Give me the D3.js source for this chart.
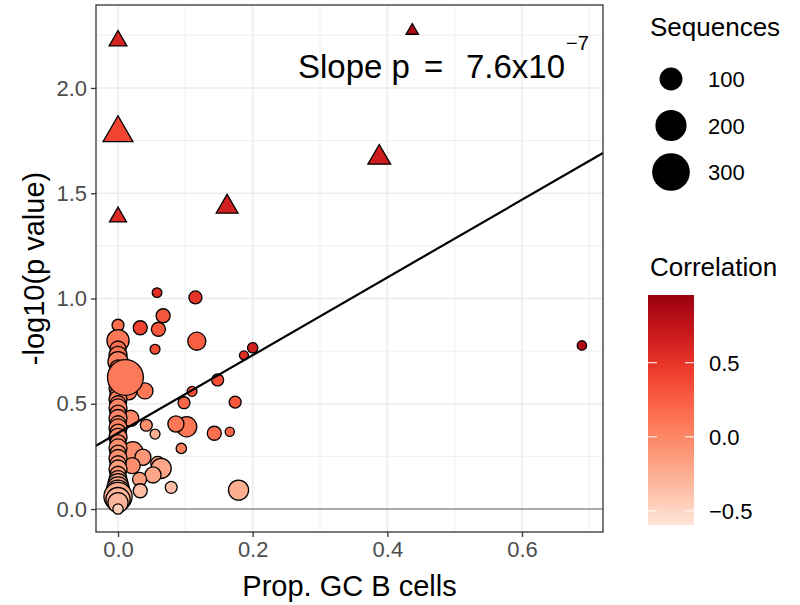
<!DOCTYPE html>
<html>
<head>
<meta charset="utf-8">
<script src="https://cdn.jsdelivr.net/npm/d3@7"></script>
<style>
body{margin:0;background:#fff;}
svg text{font-family:"Liberation Sans",Arial,Helvetica,sans-serif;}
</style>
</head>
<body>
<div id="chart"></div>
<script>
// proportion of GC B cells (x)
const gcProp=[
0.000,0.000,0.000,0.162,0.437,0.388,
0.058,0.115,0.067,0.033,0.060,0.055,0.117,0.187,0.200,0.148,0.110,0.098,0.174,
0.102,0.086,0.143,0.166,0.094,0.179,0.689,0.040,0.016,0.019,0.042,0.055,0.022,
0.037,0.021,0.059,0.064,0.052,0.032,0.033,0.079,
0.000,0.000,0.000,0.000,0.000,0.000,0.000,0.000,0.000,0.000,0.000,0.000,0.000,
0.000,0.000,0.000,0.000,0.000,0.000,0.000,0.000,0.000,0.000,0.000,0.000,0.000,
0.000,0.000,0.000,0.000,0.000,0.000,0.000,0.000,0.011
]
// -log10(p value) (y)
const logP=[
2.224,1.786,1.387,1.435,2.272,1.669,
1.028,1.005,0.918,0.861,0.854,0.759,0.797,0.730,0.766,0.613,0.559,0.505,0.508,
0.391,0.404,0.360,0.367,0.288,0.090,0.777,0.561,0.557,0.431,0.398,0.356,0.272,
0.246,0.206,0.217,0.193,0.162,0.141,0.087,0.103,
0.873,0.800,0.760,0.730,0.700,0.670,0.640,0.600,0.575,0.545,0.520,0.500,0.480,
0.455,0.430,0.405,0.385,0.365,0.340,0.315,0.290,0.265,0.240,0.215,0.190,0.165,
0.140,0.120,0.100,0.080,0.060,0.045,0.030,0.000,0.625
]
// number of sequences (size)
const nSeq=[
21,92,18,41,1,46,
3,20,26,26,26,4,55,0,6,14,4,14,14,
73,40,26,1,6,73,2,40,40,40,14,4,73,
40,40,26,73,40,26,26,14,
14,92,40,55,73,40,26,40,55,40,55,40,55,
40,55,40,55,40,55,40,55,40,55,40,55,40,
55,73,92,113,160,113,73,6,270
]
// correlation (fill)
const corr=[
0.62,0.40,0.58,0.65,0.85,0.68,
0.55,0.50,0.30,0.40,0.30,0.35,0.25,0.55,0.65,0.35,0.35,0.20,0.30,
0.10,0.10,0.15,0.20,0.05,-0.25,0.85,0.10,0.10,0.00,-0.05,-0.25,-0.05,
-0.10,-0.05,-0.15,-0.20,-0.20,-0.15,-0.35,-0.35,
0.15,0.10,0.15,0.10,0.05,0.10,0.15,0.05,0.10,0.00,0.05,0.10,0.00,
0.05,0.00,-0.05,0.05,0.00,-0.05,0.00,-0.05,-0.10,-0.05,-0.10,-0.15,-0.10,
-0.15,-0.20,-0.20,-0.25,-0.25,-0.30,-0.30,-0.45,0.08
]
const xTicks=[0,0.2,0.4,0.6]
const yTicks=[0,0.5,1.0,1.5,2.0]
const sizeBreaks=[100,200,300]
const corrTicks=[-0.5,0,0.5]
const reds=["#fee5d9","#fcbba1","#fc9272","#fb6a4a","#ef3b2c","#cb181d","#99000d"]
const slopeIntercept=0.361, slopeValue=1.847

let pts=gcProp.map((x,i)=>({x:x,y:logP[i],n:nSeq[i],c:corr[i],sig:logP[i]>1.3}))

const W=800,H=605
const panel={l:96,r:603,t:5,b:532}
let svg=d3.select('#chart').append('svg').attr('width',W).attr('height',H)

let xscale=d3.scaleLinear().domain([-0.0327,0.7203]).range([panel.l,panel.r])
let yscale=d3.scaleLinear().domain([-0.109,2.394]).range([panel.b,panel.t])
let area=d3.scaleLinear().domain([0,300]).range([20,355]).clamp(true)
let rad=n=>Math.sqrt(area(n))
let cmin=-0.595,cmax=0.957
let colorscale=d3.scaleLinear()
	.domain(d3.range(7).map(i=>cmin+i*(cmax-cmin)/6))
	.range(reds).interpolate(d3.interpolateLab)

// grid
let grid=svg.append('g')
let minorX=[0.1,0.3,0.5,0.7],minorY=[0.25,0.75,1.25,1.75,2.25]
grid.selectAll('.mx').data(minorX).join('line')
	.attr('x1',d=>xscale(d)).attr('x2',d=>xscale(d)).attr('y1',panel.t).attr('y2',panel.b)
	.attr('stroke','#ebebeb').attr('stroke-width',0.8)
grid.selectAll('.my').data(minorY).join('line')
	.attr('y1',d=>yscale(d)).attr('y2',d=>yscale(d)).attr('x1',panel.l).attr('x2',panel.r)
	.attr('stroke','#ebebeb').attr('stroke-width',0.8)
grid.selectAll('.gx').data(xTicks).join('line')
	.attr('x1',d=>xscale(d)).attr('x2',d=>xscale(d)).attr('y1',panel.t).attr('y2',panel.b)
	.attr('stroke','#ebebeb').attr('stroke-width',1.6)
grid.selectAll('.gy').data(yTicks).join('line')
	.attr('y1',d=>yscale(d)).attr('y2',d=>yscale(d)).attr('x1',panel.l).attr('x2',panel.r)
	.attr('stroke','#ebebeb').attr('stroke-width',1.6)

// zero line
svg.append('line').attr('x1',panel.l).attr('x2',panel.r)
	.attr('y1',yscale(0)).attr('y2',yscale(0))
	.attr('stroke','#ababab').attr('stroke-width',2)

// points
let marks=svg.append('g')
pts.forEach(d=>{
	if(d.sig){
		let A=Math.PI*Math.pow(rad(d.n),2)
		marks.append('path')
			.attr('d',d3.symbol().type(d3.symbolTriangle).size(A)())
			.attr('transform','translate('+xscale(d.x)+','+yscale(d.y)+')')
			.attr('fill',colorscale(d.c)).attr('stroke','black').attr('stroke-width',1.3)
	}else{
		marks.append('circle')
			.attr('cx',xscale(d.x)).attr('cy',yscale(d.y)).attr('r',rad(d.n))
			.attr('fill',colorscale(d.c)).attr('stroke','black').attr('stroke-width',1.3)
	}
})

// regression line
let x0=xscale.domain()[0],x1=xscale.domain()[1]
svg.append('line')
	.attr('x1',xscale(x0)).attr('y1',yscale(slopeIntercept+slopeValue*x0))
	.attr('x2',xscale(x1)).attr('y2',yscale(slopeIntercept+slopeValue*x1))
	.attr('stroke','black').attr('stroke-width',2.2)

// border
svg.append('rect').attr('x',panel.l).attr('y',panel.t)
	.attr('width',panel.r-panel.l).attr('height',panel.b-panel.t)
	.attr('fill','none').attr('stroke','#333333').attr('stroke-width',1.3)

// axes
let xaxis=d3.axisBottom(xscale).tickValues(xTicks).tickFormat(d3.format('.1f')).tickSizeOuter(0).tickSize(5).tickPadding(4)
let yaxis=d3.axisLeft(yscale).tickValues(yTicks).tickFormat(d3.format('.1f')).tickSizeOuter(0).tickSize(5).tickPadding(4)
let gx=svg.append('g').attr('transform','translate(0,'+panel.b+')').call(xaxis)
let gy=svg.append('g').attr('transform','translate('+panel.l+',0)').call(yaxis)
;[gx,gy].forEach(g=>{
	g.select('.domain').remove()
	g.selectAll('line').attr('stroke','#333333').attr('stroke-width',1.3)
	g.selectAll('text').attr('fill','#4d4d4d').style('font-size','22px')
		.style('font-family','"Liberation Sans",Arial,sans-serif')
})

svg.append('text').attr('x',(panel.l+panel.r)/2).attr('y',596)
	.attr('text-anchor','middle').style('font-size','29px').text('Prop. GC B cells')
svg.append('text').attr('transform','translate(44,'+((panel.t+panel.b)/2)+') rotate(-90)')
	.attr('text-anchor','middle').style('font-size','29px').text('-log10(p value)')

// annotation
let ann=svg.append('text').attr('y',78).style('font-size','33px')
ann.append('tspan').attr('x',298).text('Slope p')
ann.append('tspan').attr('x',424).text('=')
ann.append('tspan').attr('x',466).text('7.6x10')
ann.append('tspan').attr('x',566).attr('y',50).style('font-size','20px').text('\u22127')

// size legend
svg.append('text').attr('x',650).attr('y',36).style('font-size','26px').text('Sequences')
let sl=svg.append('g')
sizeBreaks.forEach((v,i)=>{
	let cy=79+i*46.5
	sl.append('circle').attr('cx',671).attr('cy',cy).attr('r',rad(v)).attr('fill','black')
	sl.append('text').attr('x',708).attr('y',cy+8).style('font-size','22px').text(v)
})

// colour bar
svg.append('text').attr('x',650).attr('y',276).style('font-size','26px').text('Correlation')
let defs=svg.append('defs')
let grad=defs.append('linearGradient').attr('id','cbar').attr('x1',0).attr('x2',0).attr('y1',1).attr('y2',0)
d3.range(0,1.0001,0.05).forEach(t=>{
	grad.append('stop').attr('offset',t).attr('stop-color',colorscale(cmin+t*(cmax-cmin)))
})
let cy=d3.scaleLinear().domain([cmin,cmax]).range([525,295])
svg.append('rect').attr('x',648).attr('y',295).attr('width',46).attr('height',230).attr('fill','url(#cbar)')
corrTicks.forEach(v=>{
	svg.append('line').attr('x1',648).attr('x2',657).attr('y1',cy(v)).attr('y2',cy(v)).attr('stroke','white').attr('stroke-width',1)
	svg.append('line').attr('x1',685).attr('x2',694).attr('y1',cy(v)).attr('y2',cy(v)).attr('stroke','white').attr('stroke-width',1)
	svg.append('text').attr('x',709).attr('y',cy(v)+8).style('font-size','22px').text(d3.format('.1f')(v).replace('-','\u2212'))
})
</script>
</body>
</html>
